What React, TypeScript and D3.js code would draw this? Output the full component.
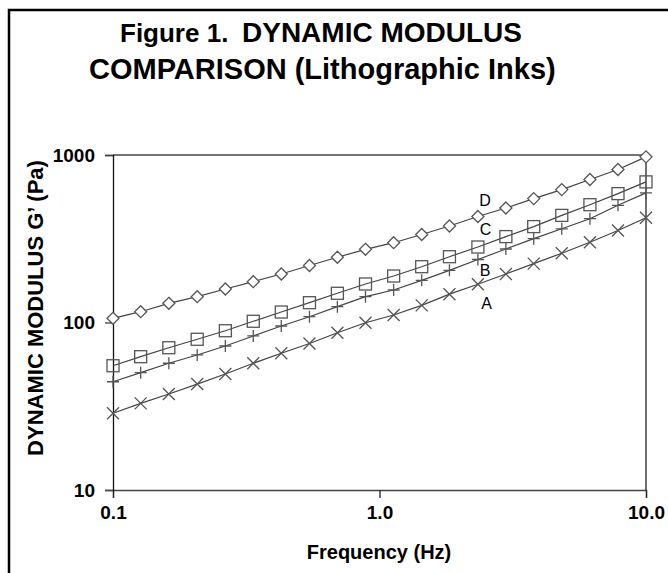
import React, { useEffect, useRef } from 'react';
import * as d3 from 'd3';

// Frequency points (Hz), 20 per curve, log-spaced
const frequency = [0.1, 0.127, 0.162, 0.207, 0.264, 0.336, 0.428, 0.546, 0.695, 0.886,
  1.13, 1.44, 1.83, 2.34, 2.98, 3.79, 4.83, 6.16, 7.85, 10];

// G' values (Pa)
const inkA = [28.7, 32.9, 37.4, 42.9, 49.3, 57.1, 65.5, 74.9, 86.9, 99.7,
  110.9, 126.5, 147.6, 169.1, 194.8, 224.6, 259.2, 301.6, 354.2, 422.5];
const inkB = [44.3, 50.2, 57.1, 64, 72.4, 83.1, 95.3, 108.3, 124.3, 142.6,
  156.3, 178.6, 204.9, 237.8, 274.7, 316.5, 362.6, 416.6, 500.9, 593.8];
const inkC = [55.2, 62.5, 70.7, 79.4, 89.3, 101.7, 115.5, 131.3, 149.4, 169.8,
  189.5, 215.3, 247.1, 282.3, 325.7, 373.7, 436, 505, 588, 691];
const inkD = [105.9, 116, 130.2, 142.6, 158.5, 175.3, 194.8, 218.9, 245.1, 273.5,
  299.5, 335.3, 376.8, 429.3, 482.6, 549.2, 621.5, 714, 819, 975];

const seriesNames = ['A', 'B', 'C', 'D'];
const seriesMarkers = ['cross', 'plus', 'square', 'diamond'];
// label anchor (frequency, value) for curve letters
const labelFreq = [2.52, 2.49, 2.5, 2.49];
const labelValue = [130, 206, 361, 538];

const xTicks = [0.1, 1, 10];
const yTicks = [10, 100, 1000];

const W = 668;
const H = 573;
const FONT = '"Liberation Sans", Arial, sans-serif';

const App = () => {
  const svgRef = useRef<SVGSVGElement>(null);

  useEffect(() => {
    const svg = d3.select(svgRef.current);
    svg.selectAll('*').remove();

    const left = 113, right = 646, top = 155, bottom = 490;

    const x = d3.scaleLog().domain([0.1, 10]).range([left, right]);
    const y = d3.scaleLog().domain([10, 1000]).range([bottom, top]);

    // outer frame (cut by the window on right and bottom)
    svg.append('rect')
      .attr('x', 9).attr('y', 10)
      .attr('width', W + 20).attr('height', H + 20)
      .attr('fill', 'none').attr('stroke', '#000').attr('stroke-width', 2.5);

    // title
    const title = svg.append('g')
      .style('font-family', FONT)
      .style('font-weight', 'bold')
      .attr('fill', '#000');
    const l1 = title.append('text').attr('y', 42);
    l1.append('tspan').attr('x', 120).style('font-size', '26px').text('Figure 1.');
    l1.append('tspan').attr('x', 242).style('font-size', '28px').text('DYNAMIC MODULUS');
    title.append('text').attr('x', 89).attr('y', 79)
      .style('font-size', '29px').text('COMPARISON (Lithographic Inks)');

    // frame of the plot
    const frame = svg.append('g').attr('stroke', '#222').attr('stroke-width', 1.3);
    frame.append('line').attr('x1', left).attr('x2', right).attr('y1', top).attr('y2', top).attr('stroke', '#444');
    frame.append('line').attr('x1', right).attr('x2', right).attr('y1', top).attr('y2', bottom);

    // axes
    svg.append('g')
      .attr('transform', `translate(0,${bottom})`)
      .call(d3.axisBottom(x).tickValues(xTicks).tickSize(8).tickPadding(8)
        .tickFormat(d3.format('.1f')))
      .call(g => g.select('.domain').attr('stroke', '#444').attr('stroke-width', 1.3))
      .call(g => g.selectAll('.tick line').attr('stroke', '#222').attr('stroke-width', 1.3))
      .selectAll('text')
      .style('font-family', FONT)
      .style('font-weight', 'bold')
      .style('font-size', '19px')
      .attr('fill', '#000');

    svg.append('g')
      .attr('transform', `translate(${left},0)`)
      .call(d3.axisLeft(y).tickValues(yTicks).tickSize(8).tickPadding(10)
        .tickFormat(d3.format('d')))
      .call(g => g.select('.domain').attr('stroke', '#111').attr('stroke-width', 1.3))
      .call(g => g.selectAll('.tick line').attr('stroke', '#444').attr('stroke-width', 1.3))
      .selectAll('text')
      .style('font-family', FONT)
      .style('font-weight', 'bold')
      .style('font-size', '19px')
      .attr('fill', '#000');

    // axis titles
    svg.append('text')
      .attr('x', 379)
      .attr('y', 559)
      .attr('text-anchor', 'middle')
      .style('font-family', FONT)
      .style('font-weight', 'bold')
      .style('font-size', '20px')
      .text('Frequency (Hz)');

    svg.append('text')
      .attr('transform', `translate(43,308) rotate(-90)`)
      .attr('text-anchor', 'middle')
      .style('font-family', FONT)
      .style('font-weight', 'bold')
      .style('font-size', '22px')
      .text('DYNAMIC MODULUS G\u2019 (Pa)');

    const line = d3.line<number>()
      .x((d, i) => x(frequency[i]))
      .y(d => y(d));

    const allSeries = [inkA, inkB, inkC, inkD];

    allSeries.forEach((values, s) => {
      svg.append('path')
        .datum(values)
        .attr('fill', 'none')
        .attr('stroke', '#444')
        .attr('stroke-width', 1.2)
        .attr('d', line);

      const marks = svg.append('g')
        .attr('fill', 'none')
        .attr('stroke', '#555')
        .attr('stroke-width', 1.3);

      values.forEach((v, i) => {
        const cx = x(frequency[i]);
        const cy = y(v);
        const m = seriesMarkers[s];
        if (m === 'diamond') {
          marks.append('path')
            .attr('d', `M${cx},${cy - 6}L${cx + 6},${cy}L${cx},${cy + 6}L${cx - 6},${cy}Z`)
            .attr('fill', '#fff');
        } else if (m === 'square') {
          marks.append('rect')
            .attr('x', cx - 6).attr('y', cy - 6)
            .attr('width', 12).attr('height', 12)
            .attr('fill', 'none');
        } else if (m === 'plus') {
          marks.append('path')
            .attr('d', `M${cx - 6},${cy}H${cx + 6}M${cx},${cy - 6}V${cy + 6}`);
        } else {
          marks.append('path')
            .attr('d', `M${cx - 6},${cy - 6}L${cx + 6},${cy + 6}M${cx - 6},${cy + 6}L${cx + 6},${cy - 6}`);
        }
      });

      svg.append('text')
        .attr('x', x(labelFreq[s]))
        .attr('y', y(labelValue[s]))
        .attr('dy', '0.35em')
        .attr('text-anchor', 'middle')
        .style('font-family', FONT)
        .style('font-size', '16px')
        .attr('fill', '#000')
        .text(seriesNames[s]);
    });
  }, []);

  return (
    <svg
      ref={svgRef}
      width={W}
      height={H}
      style={{ position: 'absolute', left: 0, top: 0, background: '#fff' }}
    />
  );
};

export default App;
